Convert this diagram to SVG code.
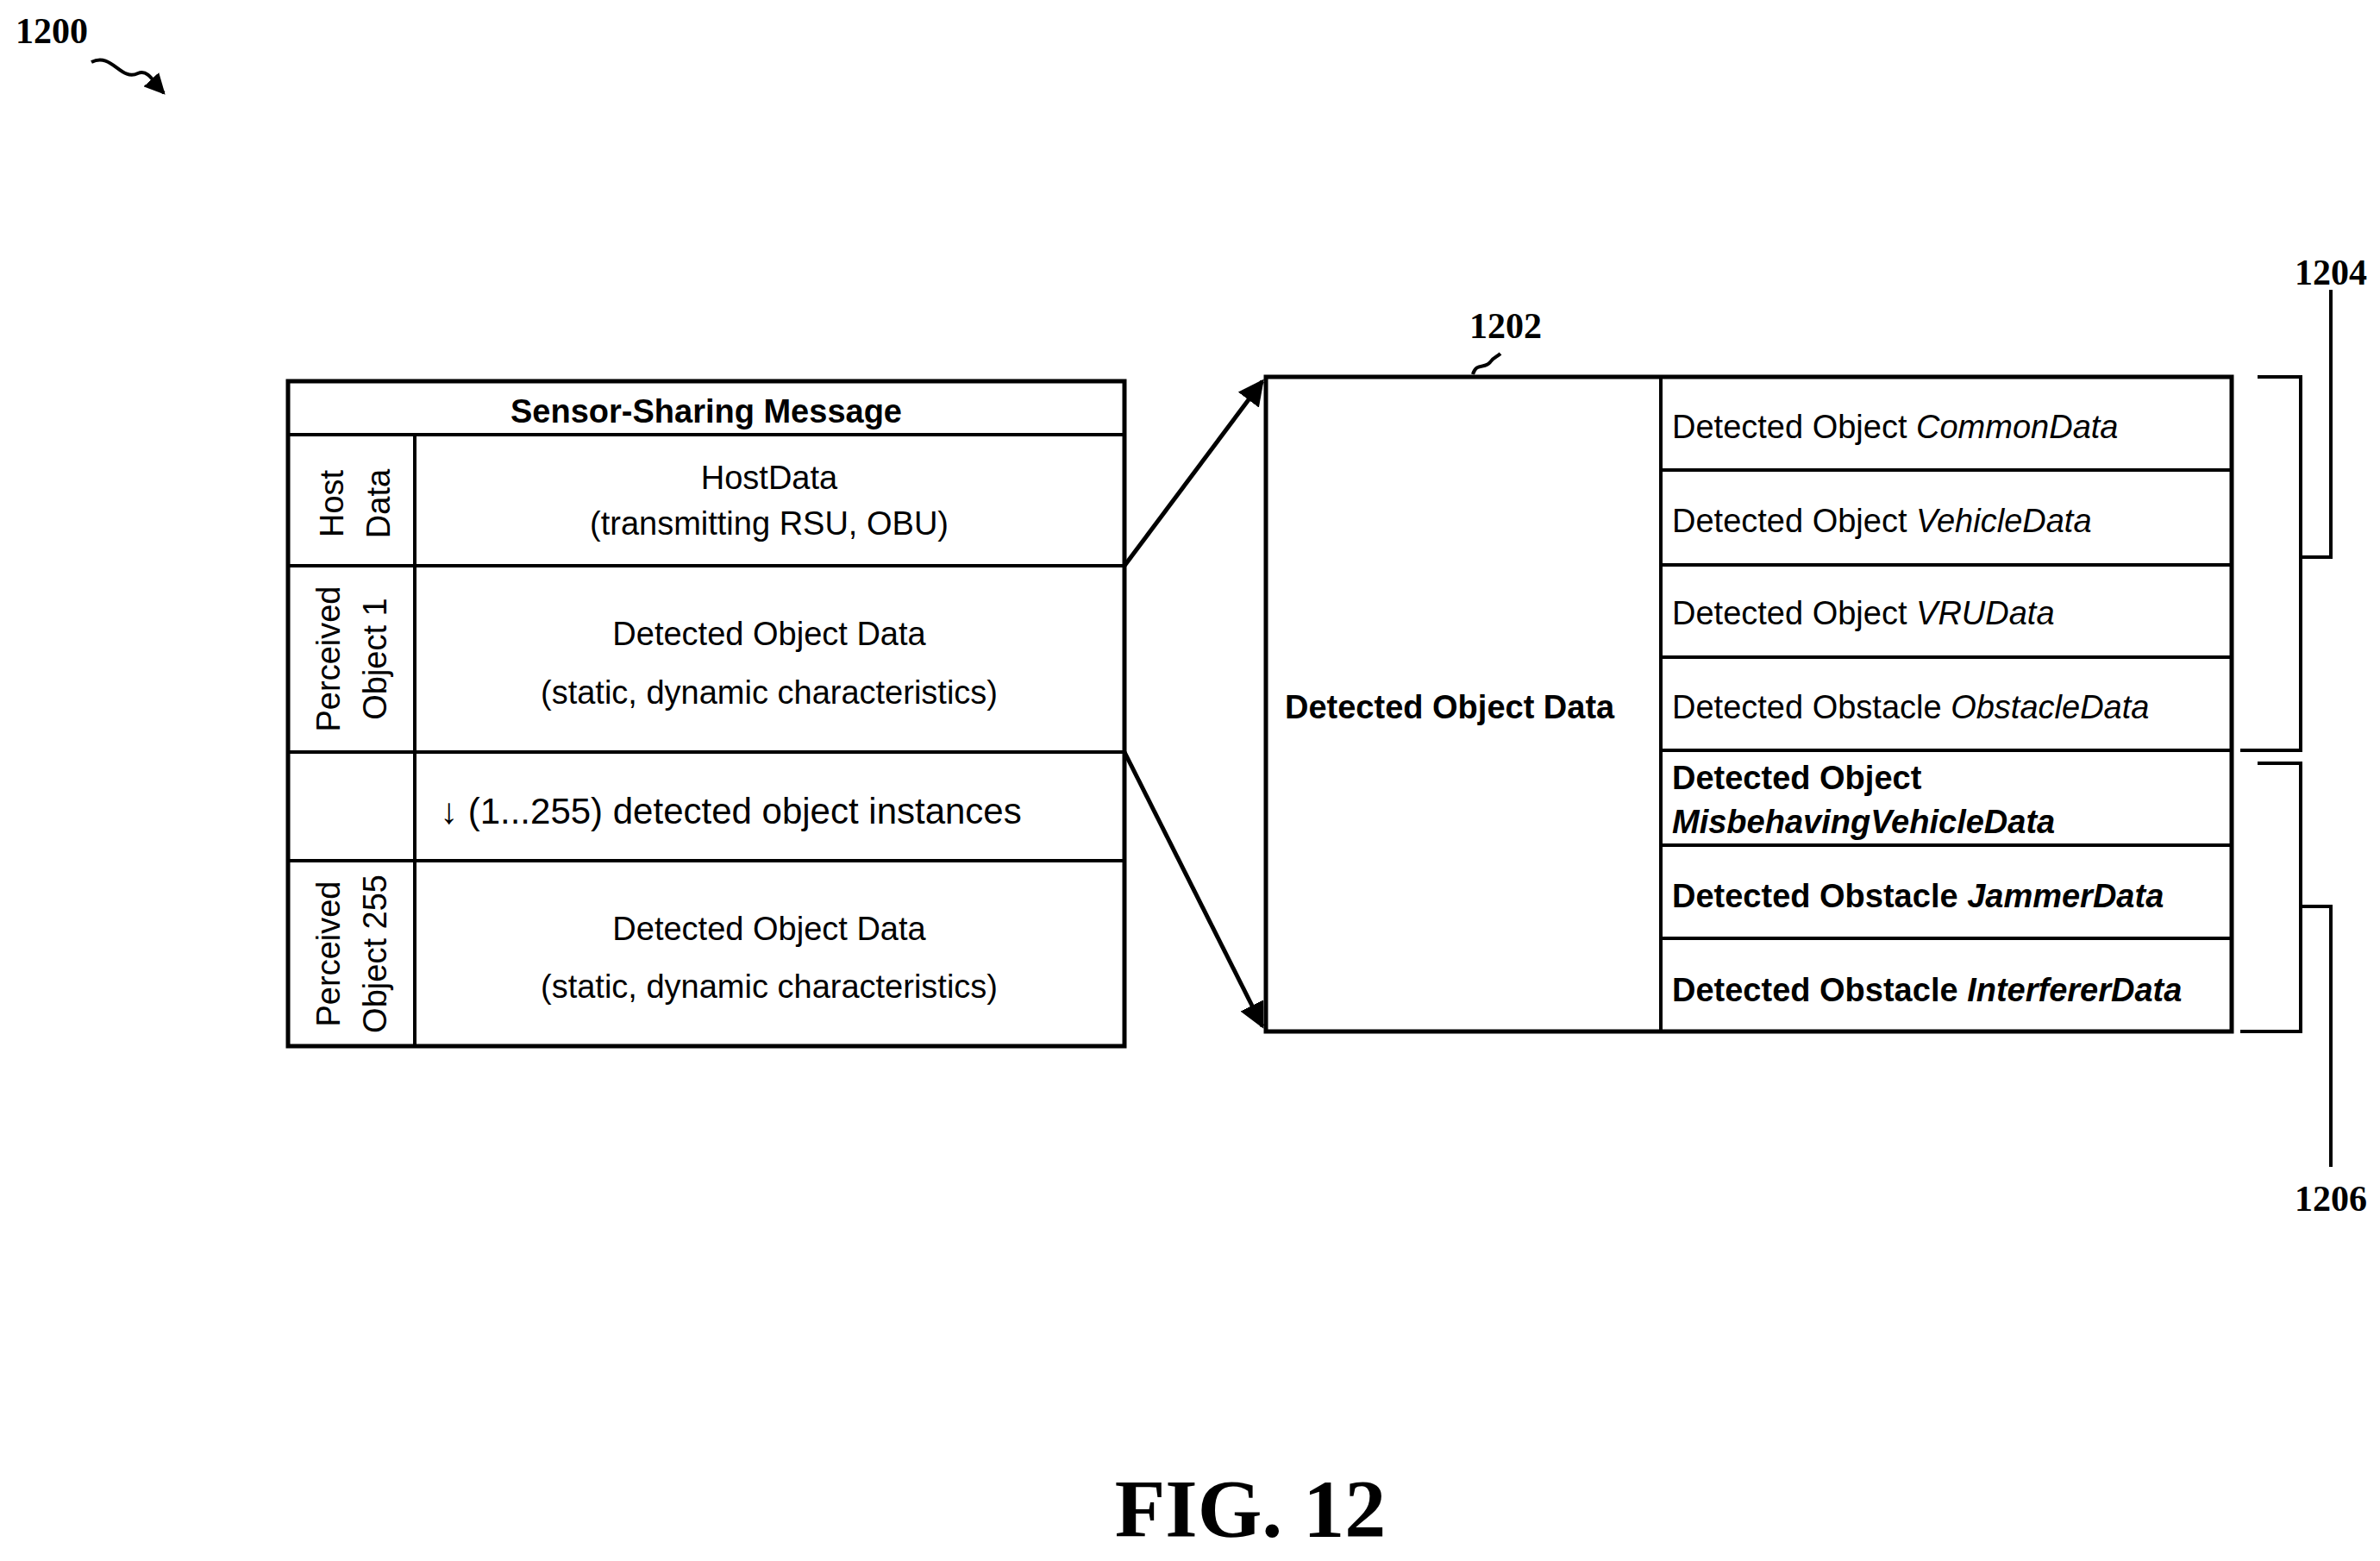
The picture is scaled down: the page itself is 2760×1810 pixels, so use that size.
<svg xmlns="http://www.w3.org/2000/svg" width="2760" height="1810" viewBox="0 0 2760 1810">
<style>
.t{font-family:"Liberation Sans",Arial,sans-serif;font-size:38px;fill:#000}
.b{font-weight:bold}
.r{font-family:"Liberation Serif","Times New Roman",serif;font-weight:bold;font-size:42px}
.box{fill:#fff;stroke:#000;stroke-width:5}
.ln{stroke:#000;stroke-width:4;fill:none}
.th{stroke:#000;stroke-width:5;fill:none}
</style>
<defs>
<marker id="ah" viewBox="0 0 10 10" refX="9" refY="5" markerWidth="6" markerHeight="6" orient="auto"><path d="M0,0L10,5L0,10z" fill="#000"/></marker>
</defs>
<g id="ref1200"><text class="r" x="18" y="50">1200</text><path class="ln" d="M106,72 C130,60 140,95 160,85 C172,80 178,95 190,108" marker-end="url(#ah)"/></g>
<g id="ssm">
<rect class="box" x="334" y="442" width="970" height="771"/>
<path class="ln" d="M334,504H1304M334,656H1304M334,872H1304M334,998H1304M481,504V1213"/>
<text class="t b" x="819" y="490" text-anchor="middle">Sensor-Sharing Message</text>
<text class="t" x="892" y="567" text-anchor="middle">HostData</text>
<text class="t" x="892" y="620" text-anchor="middle">(transmitting RSU, OBU)</text>
<text class="t" x="892" y="748" text-anchor="middle">Detected Object Data</text>
<text class="t" x="892" y="816" text-anchor="middle">(static, dynamic characteristics)</text>
<text class="t" x="510" y="955" style="font-size:42px">↓  (1...255) detected object instances</text>
<text class="t" x="892" y="1090" text-anchor="middle">Detected Object Data</text>
<text class="t" x="892" y="1157" text-anchor="middle">(static, dynamic characteristics)</text>
<text class="t" transform="translate(398,584) rotate(-90)" text-anchor="middle">Host</text>
<text class="t" transform="translate(452,584) rotate(-90)" text-anchor="middle">Data</text>
<text class="t" transform="translate(394,764) rotate(-90)" text-anchor="middle">Perceived</text>
<text class="t" transform="translate(448,764) rotate(-90)" text-anchor="middle">Object 1</text>
<text class="t" transform="translate(394,1106) rotate(-90)" text-anchor="middle">Perceived</text>
<text class="t" transform="translate(448,1106) rotate(-90)" text-anchor="middle">Object 255</text>
</g>
<g id="connectors">
<line class="th" x1="1304" y1="656" x2="1464" y2="442" marker-end="url(#ah)"/>
<line class="th" x1="1304" y1="872" x2="1464" y2="1190" marker-end="url(#ah)"/>
</g>
<g id="dod">
<rect class="box" x="1468" y="437" width="1120" height="759"/>
<path class="ln" d="M1926,437V1196M1926,545H2588M1926,655H2588M1926,762H2588M1926,870H2588M1926,980H2588M1926,1088H2588"/>
<text class="t b" x="1490" y="833">Detected Object Data</text>
<text class="t" x="1939" y="508">Detected Object <tspan font-style="italic">CommonData</tspan></text>
<text class="t" x="1939" y="617">Detected Object <tspan font-style="italic">VehicleData</tspan></text>
<text class="t" x="1939" y="724">Detected Object <tspan font-style="italic">VRUData</tspan></text>
<text class="t" x="1939" y="833">Detected Obstacle <tspan font-style="italic">ObstacleData</tspan></text>
<text class="t b" x="1939" y="915">Detected Object</text>
<text class="t b" x="1939" y="966" font-style="italic">MisbehavingVehicleData</text>
<text class="t b" x="1939" y="1052">Detected Obstacle <tspan font-style="italic">JammerData</tspan></text>
<text class="t b" x="1939" y="1161">Detected Obstacle <tspan font-style="italic">InterfererData</tspan></text>
</g>
<g id="ref1202"><text class="r" x="1746" y="392" text-anchor="middle">1202</text><path class="ln" d="M1708,434 C1712,420 1722,428 1728,420 C1732,414 1736,414 1740,410"/></g>
<g id="ref1204">
<path class="ln" d="M2618,437H2668V870H2598M2668,646H2703V336"/>
<text class="r" x="2703" y="330" text-anchor="middle">1204</text>
</g>
<g id="ref1206">
<path class="ln" d="M2618,885H2668V1196H2598M2668,1051H2703V1353"/>
<text class="r" x="2703" y="1404" text-anchor="middle">1206</text>
</g>
<text class="r" x="1450" y="1782" text-anchor="middle" style="font-size:96px">FIG. 12</text>
</svg>
